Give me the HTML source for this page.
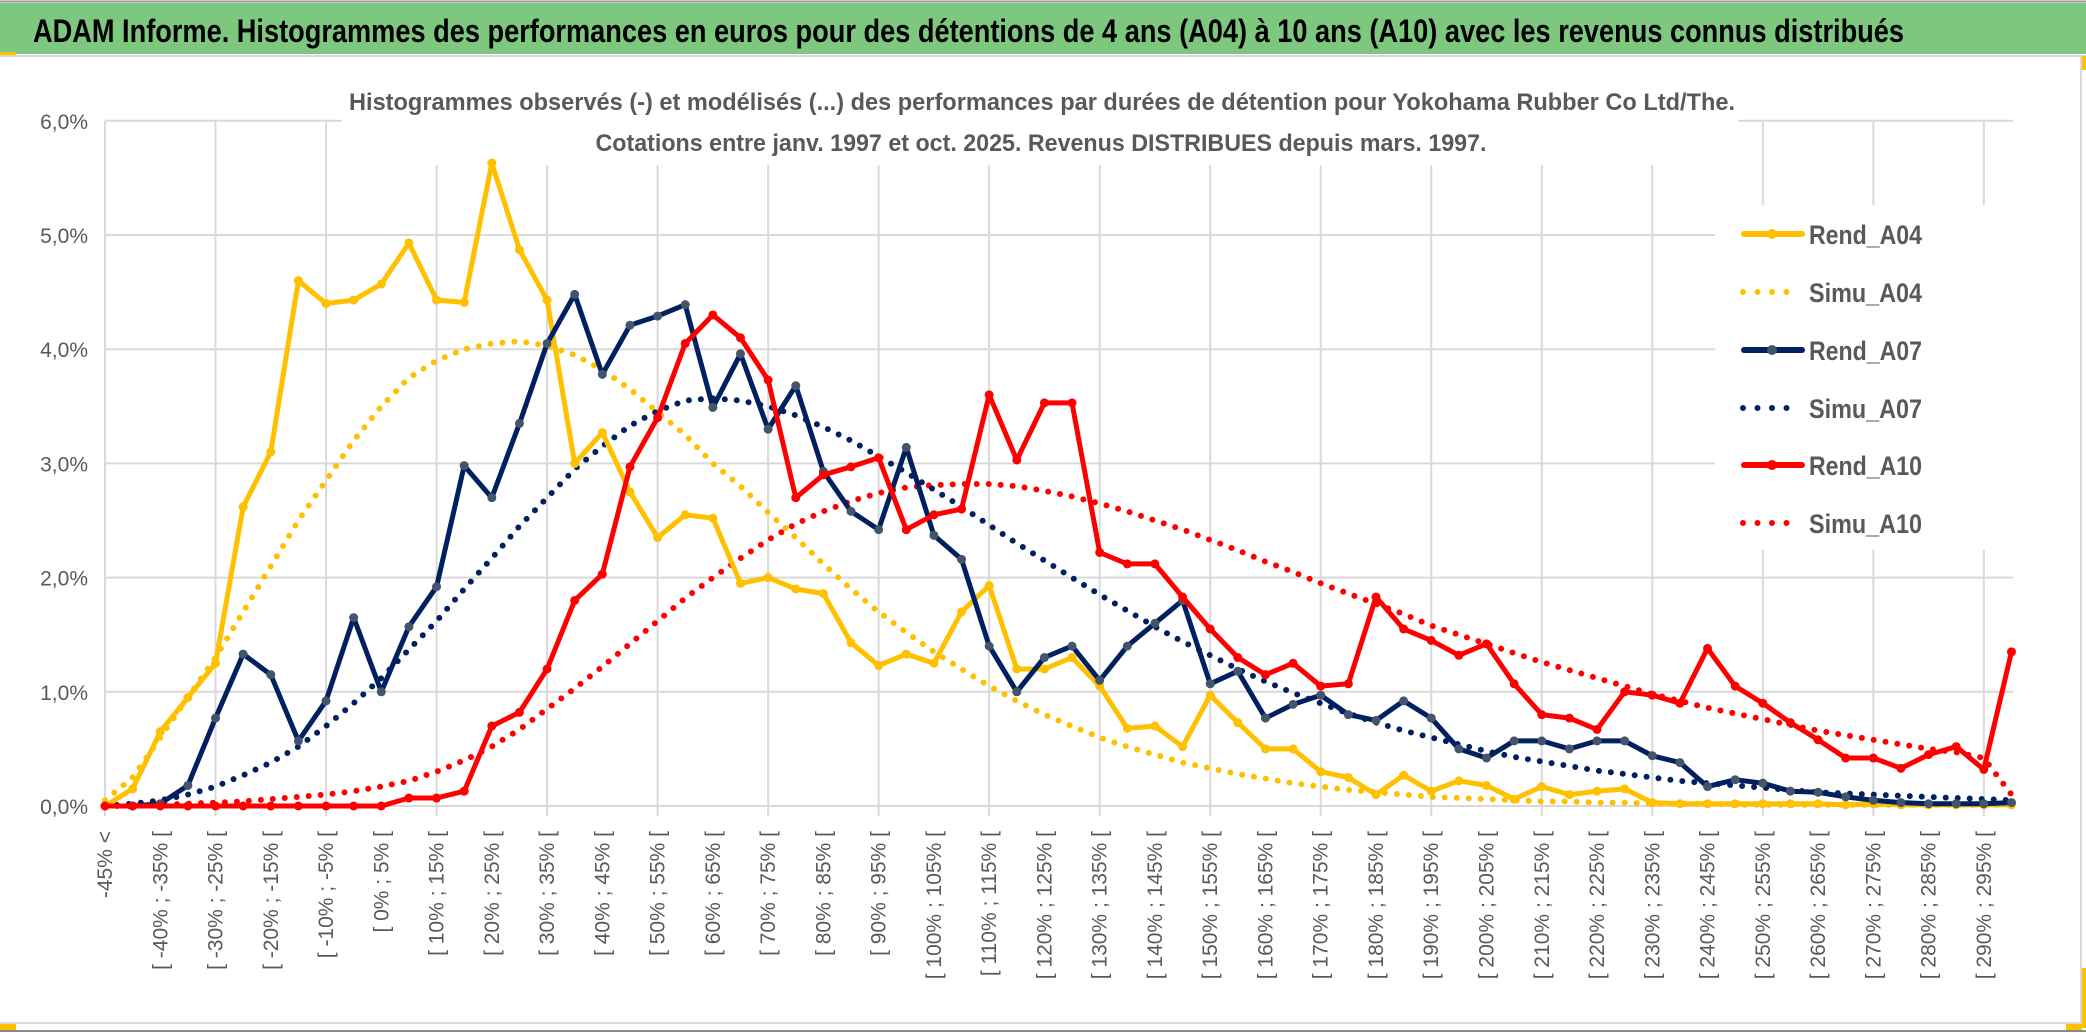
<!DOCTYPE html>
<html><head><meta charset="utf-8"><style>
html,body{margin:0;padding:0;background:#fff;}
svg{display:block;}
</style></head><body>
<svg id="chart" xmlns="http://www.w3.org/2000/svg" width="2086" height="1033" viewBox="0 0 2086 1033" font-family="'Liberation Sans', sans-serif">
<rect x="0" y="0" width="2086" height="1033" fill="#fff"/>
<rect x="0" y="3" width="2086" height="51" fill="#7DC87E"/>
<line x1="0" y1="1.5" x2="2086" y2="1.5" stroke="#9a9a9a" stroke-width="2"/>
<rect x="0" y="52" width="16" height="4" fill="#FFC000"/>
<line x1="0" y1="56" x2="2086" y2="56" stroke="#d9d9d9" stroke-width="2"/>
<text x="33" y="42" font-size="32" font-weight="bold" fill="#000" textLength="1871" lengthAdjust="spacingAndGlyphs">ADAM Informe. Histogrammes des performances en euros pour des détentions de 4 ans (A04) à 10 ans (A10) avec les revenus connus distribués</text>
<line x1="2081" y1="56" x2="2081" y2="1023" stroke="#d9d9d9" stroke-width="2"/>
<rect x="2082" y="56" width="4" height="14" fill="#FFC000"/>
<line x1="0" y1="1023" x2="2082" y2="1023" stroke="#d9d9d9" stroke-width="2"/>
<line x1="0" y1="1031" x2="2086" y2="1031" stroke="#8a8a8a" stroke-width="2"/>
<rect x="0" y="1024" width="16" height="6" fill="#FFC000"/>
<rect x="2066" y="1024" width="16" height="6" fill="#FFC000"/>
<rect x="2082" y="968" width="4" height="60" fill="#FFC000"/>
<g id="grid"></g>
<rect x="342" y="60" width="1396" height="105" fill="#fff"/>
<rect x="1715" y="205" width="300" height="345" fill="#fff"/>
<text x="1042" y="110" font-size="24" font-weight="bold" fill="#595959" text-anchor="middle" textLength="1386" lengthAdjust="spacingAndGlyphs">Histogrammes observés (-) et modélisés (...) des performances par durées de détention pour Yokohama Rubber Co Ltd/The.</text>
<text x="1041" y="151" font-size="24" font-weight="bold" fill="#595959" text-anchor="middle" textLength="891" lengthAdjust="spacingAndGlyphs">Cotations entre janv. 1997 et oct. 2025. Revenus DISTRIBUES depuis mars. 1997.</text>
<g id="axes"></g>
<g id="series"></g>
<g id="legend"></g>
</svg>
<script>
const xLabels = ["-45% <","[ -40% ; -35% [","[ -30% ; -25% [","[ -20% ; -15% [","[ -10% ; -5% [","[ 0% ; 5% [","[ 10% ; 15% [","[ 20% ; 25% [","[ 30% ; 35% [","[ 40% ; 45% [","[ 50% ; 55% [","[ 60% ; 65% [","[ 70% ; 75% [","[ 80% ; 85% [","[ 90% ; 95% [","[ 100% ; 105% [","[ 110% ; 115% [","[ 120% ; 125% [","[ 130% ; 135% [","[ 140% ; 145% [","[ 150% ; 155% [","[ 160% ; 165% [","[ 170% ; 175% [","[ 180% ; 185% [","[ 190% ; 195% [","[ 200% ; 205% [","[ 210% ; 215% [","[ 220% ; 225% [","[ 230% ; 235% [","[ 240% ; 245% [","[ 250% ; 255% [","[ 260% ; 265% [","[ 270% ; 275% [","[ 280% ; 285% [","[ 290% ; 295% ["];
const yTicks = [0,1,2,3,4,5,6];
const yTickLabels = ["0,0%","1,0%","2,0%","3,0%","4,0%","5,0%","6,0%"];
const rendA04 = [0,0.15,0.65,0.95,1.25,2.62,3.1,4.6,4.4,4.43,4.57,4.93,4.43,4.41,5.63,4.87,4.43,3.0,3.27,2.75,2.35,2.55,2.52,1.95,2.0,1.9,1.86,1.43,1.23,1.33,1.25,1.7,1.93,1.2,1.2,1.3,1.05,0.68,0.7,0.52,0.97,0.73,0.5,0.5,0.3,0.25,0.1,0.27,0.13,0.22,0.18,0.06,0.17,0.1,0.13,0.15,0.03,0.02,0.02,0.02,0.02,0.02,0.02,0.01,0.02,0.01,0.01,0.01,0.01,0.01];
const simuA04 = [0.05,0.25,0.6,0.95,1.3,1.7,2.1,2.5,2.85,3.2,3.5,3.75,3.9,4.0,4.05,4.07,4.03,3.95,3.82,3.65,3.45,3.25,3.0,2.8,2.57,2.35,2.12,1.9,1.7,1.52,1.35,1.2,1.05,0.92,0.8,0.7,0.6,0.52,0.45,0.38,0.33,0.28,0.24,0.2,0.17,0.14,0.12,0.1,0.08,0.07,0.06,0.05,0.04,0.04,0.03,0.03,0.02,0.02,0.02,0.01,0.01,0.01,0.01,0.01,0.01,0.01,0.01,0.01,0.01,0.01];
const rendA07 = [0,0,0.02,0.18,0.77,1.33,1.15,0.57,0.92,1.65,1.0,1.57,1.92,2.98,2.7,3.35,4.05,4.48,3.78,4.21,4.29,4.39,3.49,3.96,3.3,3.68,2.93,2.58,2.42,3.14,2.37,2.16,1.4,1.0,1.3,1.4,1.1,1.4,1.6,1.8,1.07,1.18,0.77,0.89,0.97,0.8,0.75,0.92,0.77,0.5,0.42,0.57,0.57,0.5,0.57,0.57,0.44,0.38,0.17,0.23,0.2,0.13,0.12,0.08,0.05,0.03,0.02,0.02,0.02,0.03];
const simuA07 = [0,0.02,0.05,0.1,0.17,0.27,0.38,0.52,0.7,0.9,1.12,1.37,1.62,1.9,2.17,2.45,2.7,2.95,3.15,3.33,3.46,3.55,3.57,3.55,3.5,3.42,3.32,3.2,3.06,2.92,2.77,2.62,2.46,2.3,2.15,2.0,1.85,1.71,1.57,1.44,1.32,1.2,1.09,0.99,0.9,0.81,0.73,0.66,0.6,0.54,0.48,0.43,0.39,0.35,0.31,0.28,0.25,0.22,0.2,0.18,0.16,0.14,0.12,0.11,0.1,0.09,0.08,0.07,0.06,0.05];
const rendA10 = [0,0,0,0,0,0,0,0,0,0,0,0.07,0.07,0.13,0.7,0.82,1.2,1.8,2.03,2.97,3.4,4.05,4.3,4.1,3.73,2.7,2.9,2.97,3.05,2.42,2.55,2.6,3.6,3.03,3.53,3.53,2.22,2.12,2.12,1.83,1.55,1.3,1.15,1.25,1.05,1.07,1.83,1.55,1.45,1.32,1.42,1.07,0.8,0.77,0.67,1.0,0.97,0.9,1.38,1.05,0.9,0.73,0.58,0.42,0.42,0.33,0.45,0.52,0.32,1.35];
const simuA10 = [0,0,0.01,0.02,0.03,0.04,0.06,0.08,0.1,0.13,0.17,0.22,0.3,0.4,0.52,0.67,0.85,1.03,1.22,1.42,1.62,1.82,2.0,2.17,2.33,2.47,2.58,2.67,2.74,2.79,2.81,2.82,2.82,2.8,2.76,2.71,2.65,2.58,2.5,2.42,2.33,2.24,2.14,2.05,1.95,1.86,1.77,1.68,1.58,1.5,1.42,1.34,1.26,1.19,1.12,1.05,0.98,0.92,0.86,0.81,0.76,0.71,0.66,0.62,0.58,0.54,0.5,0.47,0.42,0.1];

const NS = "http://www.w3.org/2000/svg";
const X0 = 105, STEP = 27.63, Y0 = 806, YU = 114.2, XR = 2013;
const xAt = i => X0 + i * STEP;
const yAt = v => Y0 - v * YU;
function mk(tag, attrs, parent){const e=document.createElementNS(NS,tag);for(const k in attrs)e.setAttribute(k,attrs[k]);parent.appendChild(e);return e;}

const grid = document.getElementById('grid');
yTicks.forEach(t=>{
  const l = mk('line',{x1:X0,x2:XR,y1:yAt(t),y2:yAt(t),stroke:'#d9d9d9','stroke-width':2},grid);
  
  
});
for(let i=0;i<rendA04.length;i+=4){
  const l = mk('line',{x1:xAt(i),x2:xAt(i),y1:yAt(6),y2:Y0+10,stroke:'#d9d9d9','stroke-width':2},grid);
  
  
}
const axes = document.getElementById('axes');
yTicks.forEach((t,k)=>{
  const tx = mk('text',{x:88,y:yAt(t)+8,'font-size':21,fill:'#595959','text-anchor':'end'},axes);
  tx.textContent = yTickLabels[k];
  
  
});
xLabels.forEach((s,k)=>{
  const x = xAt(k*2)+7, y = 831;
  const tx = mk('text',{x:x,y:y,'font-size':21,fill:'#595959','text-anchor':'end',transform:`rotate(-90 ${x} ${y})`},axes);
  tx.textContent = s;
  
  
});

const series = document.getElementById('series');
function pts(arr){return arr.map((v,i)=>xAt(i).toFixed(1)+','+yAt(v).toFixed(1)).join(' ');}
function dotted(arr,color,name){
  const p = mk('polyline',{points:pts(arr),fill:'none',stroke:color,'stroke-width':6,'stroke-linecap':'round','stroke-dasharray':'0 12'},series);
  
  
}
function solid(arr,color,mcolor,name){
  const g = mk('g',{},series);
  
  
  mk('polyline',{points:pts(arr),fill:'none',stroke:color,'stroke-width':5,'stroke-linejoin':'round'},g);
  arr.forEach((v,i)=>{
    const c = mk('circle',{cx:xAt(i),cy:yAt(v),r:4.5,fill:mcolor},g);
    
    
  });
}
dotted(simuA10,'#FF0000','simu-a10-line');
dotted(simuA07,'#002060','simu-a07-line');
dotted(simuA04,'#FFC000','simu-a04-line');
solid(rendA04,'#FFC000','#FFC000','rend-a04-line');
solid(rendA07,'#002060','#44546A','rend-a07-line');
solid(rendA10,'#FF0000','#FF0000','rend-a10-line');

const legendItems = [["Rend_A04","#FFC000",false,"#FFC000"],["Simu_A04","#FFC000",true],["Rend_A07","#002060",false,"#44546A"],["Simu_A07","#002060",true],["Rend_A10","#FF0000",false,"#FF0000"],["Simu_A10","#FF0000",true]];
const legendY = [234,292,350,408,465,523];
const legend = document.getElementById('legend');
legendItems.forEach((it,k)=>{
  const g = mk('g',{},legend);
  
  
  const y = legendY[k];
  if(it[2]){
    mk('line',{x1:1743,x2:1800,y1:y,y2:y,stroke:it[1],'stroke-width':6,'stroke-linecap':'round','stroke-dasharray':'0 14.5'},g);
  } else {
    mk('line',{x1:1744,x2:1802,y1:y,y2:y,stroke:it[1],'stroke-width':6,'stroke-linecap':'round'},g);
    mk('circle',{cx:1772,cy:y,r:5,fill:it[3]},g);
  }
  const t = mk('text',{x:1809,y:y+10,'font-size':27,'font-weight':'bold',fill:'#595959',textLength:113,lengthAdjust:'spacingAndGlyphs'},g);
  t.textContent = it[0];
});
</script>
</body></html>
